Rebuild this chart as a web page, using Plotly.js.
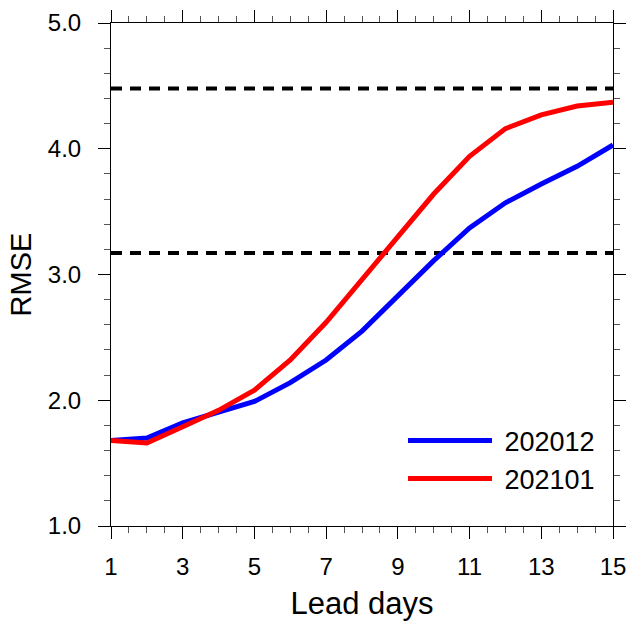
<!DOCTYPE html>
<html>
<head>
<meta charset="utf-8">
<script src="https://cdn.plot.ly/plotly-3.0.1.min.js"></script>
<style>
  html, body { margin: 0; padding: 0; background: #fff; }
  #chart { width: 630px; height: 622px; }
</style>
</head>
<body>
<div id="chart"></div>
<script>
// Forecast lead time (days)
const leadDays = [1, 2, 3, 4, 5, 6, 7, 8, 9, 10, 11, 12, 13, 14, 15];

// RMSE per lead day for the two initialisation months
const rmse202012 = [1.68, 1.70, 1.82, 1.91, 1.99, 2.14, 2.32, 2.55, 2.83, 3.11, 3.37, 3.57, 3.72, 3.86, 4.03];
const rmse202101 = [1.68, 1.66, 1.79, 1.92, 2.08, 2.32, 2.62, 2.96, 3.30, 3.64, 3.94, 4.16, 4.27, 4.34, 4.37];

// Reference levels drawn as dashed horizontal lines
const refLevels = [4.48, 3.17];

const seriesNames = ['202012', '202101'];

const xTicks = [1, 3, 5, 7, 9, 11, 13, 15];
const yTicks = [1.0, 2.0, 3.0, 4.0, 5.0];
const yTickText = ['1.0', '2.0', '3.0', '4.0', '5.0'];

const FONT = 'Liberation Sans, Arial, Helvetica, sans-serif';
const xEnds = [leadDays[0], leadDays[leadDays.length - 1]];

const traces = refLevels.map(level => ({
  x: xEnds,
  y: [level, level],
  mode: 'lines',
  line: { color: '#000', width: 4, dash: '11px,8px' },
  showlegend: false,
  hoverinfo: 'skip'
}));

// a no-break space separates the legend sample line from its label
traces.push({
  x: leadDays, y: rmse202012, name: '\u00a0' + seriesNames[0], mode: 'lines',
  line: { color: '#0000ff', width: 5 }
});
traces.push({
  x: leadDays, y: rmse202101, name: '\u00a0' + seriesNames[1], mode: 'lines',
  line: { color: '#ff0000', width: 5 }
});

const layout = {
  width: 630,
  height: 622,
  margin: { l: 111, r: 17, t: 23, b: 96 },
  paper_bgcolor: '#fff',
  plot_bgcolor: '#fff',
  font: { family: FONT, color: '#000' },
  showlegend: true,
  legend: {
    x: 0.5817, y: 0.218, xanchor: 'left', yanchor: 'top',
    bgcolor: 'rgba(0,0,0,0)',
    font: { size: 27, family: FONT },
    itemwidth: 84,
    tracegroupgap: 0
  },
  xaxis: {
    range: [1, 15],
    tickmode: 'array',
    tickvals: xTicks,
    ticks: 'outside',
    ticklen: 12,
    tickwidth: 1,
    tickcolor: '#000',
    tickfont: { size: 24, family: FONT },
    ticklabelstandoff: 7,
    showline: true,
    linecolor: '#000',
    linewidth: 1,
    mirror: 'allticks',
    showgrid: false,
    zeroline: false,
    minor: { dtick: 0.5, ticks: 'outside', ticklen: 6, tickwidth: 1, tickcolor: '#555', showgrid: false },
    title: { text: 'Lead days', font: { size: 31, family: FONT }, standoff: 13 }
  },
  yaxis: {
    range: [1, 5],
    tickmode: 'array',
    tickvals: yTicks,
    ticktext: yTickText,
    ticks: 'outside',
    ticklen: 12,
    tickwidth: 1,
    tickcolor: '#000',
    tickfont: { size: 24, family: FONT },
    ticklabelstandoff: 12,
    showline: true,
    linecolor: '#000',
    linewidth: 1,
    mirror: 'allticks',
    showgrid: false,
    zeroline: false,
    minor: { dtick: 0.2, ticks: 'outside', ticklen: 6, tickwidth: 1, tickcolor: '#555', showgrid: false },
    title: { text: 'RMSE', font: { size: 29, family: FONT }, standoff: 7 }
  }
};

Plotly.newPlot('chart', traces, layout, { displayModeBar: false, staticPlot: true });
</script>
</body>
</html>
